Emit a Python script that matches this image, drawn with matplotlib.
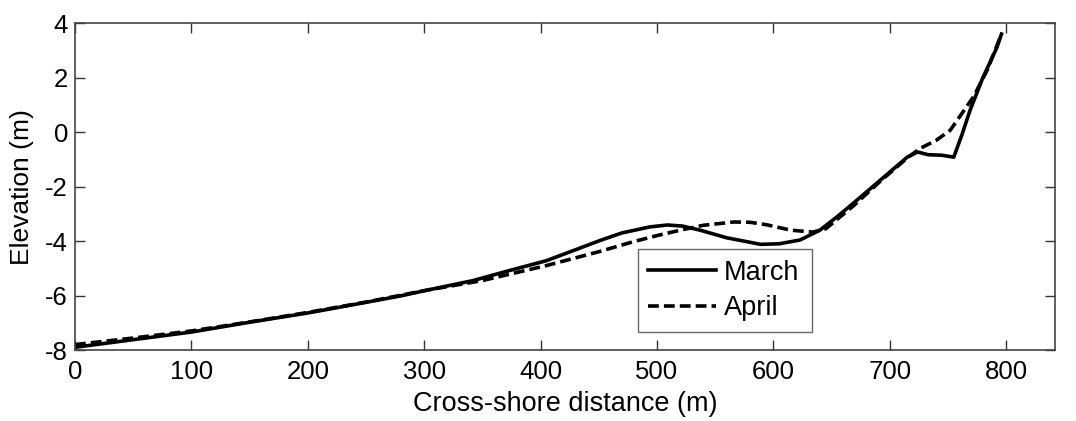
import numpy as np
import matplotlib.pyplot as plt

# perfiles
x_march = [0, 50, 100, 150, 200, 236, 279, 305, 342, 370, 405, 430, 451, 470,
           494, 509, 522, 537, 560, 589, 605, 623, 640, 655, 669, 692, 715, 724,
           733, 745, 755, 762, 769, 780, 792, 796]
z_march = [-7.9, -7.62, -7.34, -6.98, -6.64, -6.36, -6.02, -5.78, -5.45, -5.12,
           -4.72, -4.32, -3.98, -3.7, -3.48, -3.41, -3.45, -3.6, -3.88, -4.12,
           -4.1, -3.96, -3.6, -3.1, -2.6, -1.76, -0.92, -0.73, -0.83, -0.85,
           -0.92, -0.1, 0.8, 2.0, 3.1, 3.6]

x_april = [0, 50, 100, 150, 200, 250, 300, 350, 405, 451, 480, 500, 520, 540,
           566, 580, 594, 615, 634, 645, 669, 692, 715, 726, 740, 752, 772, 784,
           796]
z_april = [-7.8, -7.56, -7.3, -6.97, -6.62, -6.24, -5.82, -5.45, -4.9, -4.38,
           -4.02, -3.8, -3.6, -3.42, -3.3, -3.31, -3.4, -3.6, -3.67, -3.55, -2.7,
           -1.8, -0.95, -0.6, -0.3, 0.07, 1.3, 2.3, 3.6]

x_ticks = [0, 100, 200, 300, 400, 500, 600, 700, 800]
y_ticks = [-8, -6, -4, -2, 0, 2, 4]

plt.rcParams['font.family'] = ['Liberation Sans', 'DejaVu Sans']
plt.rcParams['axes.unicode_minus'] = False

fig = plt.figure(figsize=(10.76, 4.21), dpi=100)
ax = fig.add_axes([0.0697, 0.1686, 0.9108, 0.7764])

ax.plot(x_march, z_march, color='black', lw=2.6, label='March',
        solid_joinstyle='round')
ax.plot(x_april, z_april, color='black', lw=2.6, ls=(0, (3, 1.4)),
        label='April')

ax.set_xlim(0, 842)
ax.set_ylim(-8, 4)
ax.set_xticks(x_ticks)
ax.set_yticks(y_ticks)
ax.set_xlabel('Cross-shore distance (m)', fontsize=19.5, labelpad=5)
ax.set_ylabel('Elevation (m)', fontsize=19, labelpad=8)
ax.tick_params(axis='both', direction='in', length=7, width=1,
               colors='#333333', labelsize=18.5, labelcolor='black',
               top=True, right=True)
ax.tick_params(axis='x', pad=7)
ax.tick_params(axis='y', pad=5)
for s in ax.spines.values():
    s.set_color('#444444')
    s.set_linewidth(1.2)

leg = ax.legend(loc='lower left', bbox_to_anchor=(0.574, 0.055, 0.178, 0.242),
                mode='expand', fontsize=19.5, frameon=True, fancybox=False,
                handlelength=2.5, handletextpad=0.3, borderaxespad=0,
                labelspacing=0.35, borderpad=0.4)
leg.get_frame().set_edgecolor('#444444')
leg.get_frame().set_linewidth(1.0)

fig.savefig('out.png', dpi=100)
